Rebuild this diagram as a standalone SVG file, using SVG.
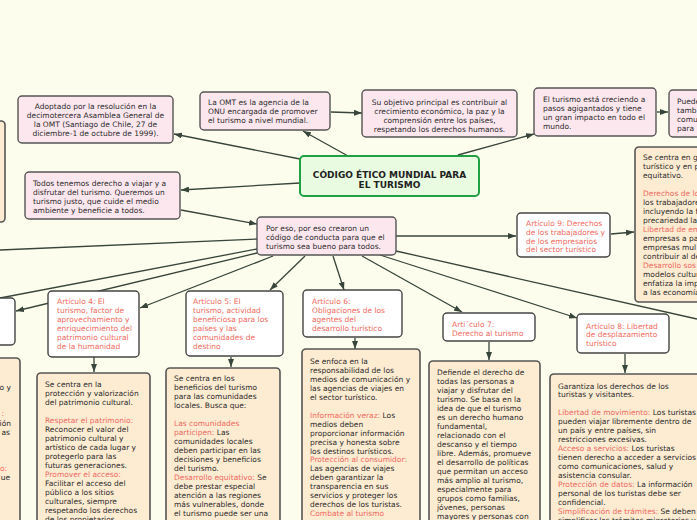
<svg xmlns="http://www.w3.org/2000/svg" width="697" height="520" viewBox="0 0 697 520">
<defs>
<marker id="ah" markerUnits="userSpaceOnUse" markerWidth="8" markerHeight="6" refX="8" refY="3" orient="auto"><path d="M0,0 L8,3 L0,6 z" fill="#37453a"/></marker>
<style>
.bg{fill:#fdfdee}
.pk{fill:#fde7ef;stroke:#555;stroke-width:1.4}
.or{fill:#fdebd2;stroke:#555;stroke-width:1.6}
.wh{fill:#fff;stroke:#444;stroke-width:1.4}
.ce{fill:#e9fbe0;stroke:#22a044;stroke-width:2}
.t{font-family:"DejaVu Sans",Verdana,sans-serif;font-size:7.5px;fill:#2b2b2b}
.c{text-anchor:middle}
.r{fill:#ef6a5e}
.b{font-family:"DejaVu Sans",Verdana,sans-serif;font-size:9px;font-weight:bold;fill:#222;text-anchor:middle}
.ln{fill:none;stroke:#37453a;stroke-width:1.3}
</style>
</defs>
<rect class="bg" x="0" y="0" width="697" height="520"/>

<g id="connectors">
<path class="ln" d="M348,156 L303,131" marker-end="url(#ah)"/>
<path class="ln" d="M331,112 L362,113" marker-end="url(#ah)"/>
<path class="ln" d="M458,155 L534,134" marker-end="url(#ah)"/>
<path class="ln" d="M657,112 L668,112" marker-end="url(#ah)"/>
<path class="ln" d="M300,159 L174,134" marker-end="url(#ah)"/>
<path class="ln" d="M300,183 L181,190" marker-end="url(#ah)"/>
<path class="ln" d="M181,210 L257,224" marker-end="url(#ah)"/>
<path class="ln" d="M257,239 L0,250"/>
<path class="ln" d="M257,249 L0,298"/>
<path class="ln" d="M257,253 L16,311" marker-end="url(#ah)"/>
<path class="ln" d="M273,256 L140,308" marker-end="url(#ah)"/>
<path class="ln" d="M305,256 L270,290" marker-end="url(#ah)"/>
<path class="ln" d="M333,256 L344,290" marker-end="url(#ah)"/>
<path class="ln" d="M362,256 L462,312" marker-end="url(#ah)"/>
<path class="ln" d="M380,255 L577,318" marker-end="url(#ah)"/>
<path class="ln" d="M396,251 L697,319"/>
<path class="ln" d="M396,236 L516,236" marker-end="url(#ah)"/>
<path class="ln" d="M611,234 L634,232" marker-end="url(#ah)"/>
<path class="ln" d="M94,357 L94,372" marker-end="url(#ah)"/>
<path class="ln" d="M231,357 L231,367" marker-end="url(#ah)"/>
<path class="ln" d="M355,338 L355,349" marker-end="url(#ah)"/>
<path class="ln" d="M489,342 L489,360" marker-end="url(#ah)"/>
<path class="ln" d="M625,354 L625,373" marker-end="url(#ah)"/>
</g>

<g id="central">
<rect class="ce" x="300" y="156" width="179" height="40" rx="4"/>
<text class="b" x="389.5" y="177.5">CÓDIGO ÉTICO MUNDIAL PARA</text>
<text class="b" x="389.5" y="187.5">EL TURISMO</text>
</g>

<g id="omt">
<rect class="pk" x="200" y="92" width="130" height="38" rx="4"/>
<text class="t" x="208" y="104.5">La OMT es la agencia de la<tspan x="208" dy="9">ONU encargada de promover</tspan><tspan x="208" dy="9">el turismo a nivel mundial.</tspan></text>
</g>

<g id="objetivo">
<rect class="pk" x="362" y="90" width="155" height="47" rx="4"/>
<text class="t c" x="439.5" y="104.5">Su objetivo principal es contribuir al<tspan x="439.5" dy="9">crecimiento económico, la paz y la</tspan><tspan x="439.5" dy="9">comprensión entre los países,</tspan><tspan x="439.5" dy="9">respetando los derechos humanos.</tspan></text>
</g>

<g id="creciendo">
<rect class="pk" x="534" y="88" width="122" height="48" rx="4"/>
<text class="t" x="543" y="102">El turismo está creciendo a<tspan x="543" dy="9">pasos agigantados y tiene</tspan><tspan x="543" dy="9">un gran impacto en todo el</tspan><tspan x="543" dy="9">mundo.</tspan></text>
</g>

<g id="pueden">
<rect class="pk" x="669" y="90" width="60" height="47" rx="4"/>
<text class="t" x="677" y="104">Puede<tspan x="677" dy="9">tamb</tspan><tspan x="677" dy="9">comu</tspan><tspan x="677" dy="9">para</tspan></text>
</g>

<g id="adoptado">
<rect class="pk" x="18" y="96" width="155" height="47" rx="4"/>
<text class="t c" x="95.5" y="109">Adoptado por la resolución en la<tspan x="95.5" dy="9">decimotercera Asamblea General de</tspan><tspan x="95.5" dy="9">la OMT (Santiago de Chile, 27 de</tspan><tspan x="95.5" dy="9">diciembre-1 de octubre de 1999).</tspan></text>
</g>

<g id="left-top">
<rect class="or" x="-30" y="121" width="35" height="101" rx="4"/>
</g>

<g id="todos">
<rect class="pk" x="25" y="172" width="155" height="47" rx="4"/>
<text class="t" x="33" y="185.5">Todos tenemos derecho a viajar y a<tspan x="33" dy="9">disfrutar del turismo. Queremos un</tspan><tspan x="33" dy="9">turismo justo, que cuide el medio</tspan><tspan x="33" dy="9">ambiente y beneficie a todos.</tspan></text>
</g>

<g id="poreso">
<rect class="pk" x="257" y="217" width="139" height="38" rx="4"/>
<text class="t" x="266" y="230.5">Por eso, por eso crearon un<tspan x="266" dy="9">código de conducta para que el</tspan><tspan x="266" dy="9">turismo sea bueno para todos.</tspan></text>
</g>

<g id="art9">
<rect class="wh" x="517" y="213" width="93" height="44" rx="4"/>
<text class="t r" x="526" y="226">Artículo 9: Derechos<tspan x="526" dy="8.8">de los trabajadores y</tspan><tspan x="526" dy="8.8">de los empresarios</tspan><tspan x="526" dy="8.8">del sector turístico</tspan></text>
</g>

<g id="art9-desc">
<rect class="or" x="635" y="147" width="90" height="155" rx="4"/>
<text class="t" x="643" y="160">Se centra en g<tspan x="643" dy="9">turístico y en p</tspan><tspan x="643" dy="9">equitativo.</tspan><tspan x="643" dy="18" class="r">Derechos de lo</tspan><tspan x="643" dy="9">los trabajadore</tspan><tspan x="643" dy="9">incluyendo la f</tspan><tspan x="643" dy="9">precariedad la</tspan><tspan x="643" dy="9" class="r">Libertad de em</tspan><tspan x="643" dy="9">empresas a pa</tspan><tspan x="643" dy="9">empresas mul</tspan><tspan x="643" dy="9">contribuir al de</tspan><tspan x="643" dy="9" class="r">Desarrollo sos</tspan><tspan x="643" dy="9">modelos cultur</tspan><tspan x="643" dy="9">enfatiza la imp</tspan><tspan x="643" dy="9">a las economía</tspan></text>
</g>

<g id="left-mid">
<rect class="wh" x="-30" y="298" width="45" height="47" rx="4"/>
</g>

<g id="left-bottom">
<rect class="or" x="-30" y="358" width="50" height="180" rx="4"/>
<text class="t" x="11" y="389.5" text-anchor="end">o y</text>
<text class="t r" x="4" y="416" text-anchor="end">:</text>
<text class="t" x="11" y="425.5" text-anchor="end">ión</text>
<text class="t" x="10" y="434.5" text-anchor="end">as</text>
<text class="t r" x="7" y="470.5" text-anchor="end">o:</text>
<text class="t" x="10" y="479.5" text-anchor="end">ue</text>
</g>

<g id="art4">
<rect class="wh" x="48" y="291" width="91" height="66" rx="4"/>
<text class="t r" x="57" y="304">Artículo 4: El<tspan x="57" dy="9">turismo, factor de</tspan><tspan x="57" dy="9">aprovechamiento y</tspan><tspan x="57" dy="9">enriquecimiento del</tspan><tspan x="57" dy="9">patrimonio cultural</tspan><tspan x="57" dy="9">de la humanidad</tspan></text>
</g>

<g id="art4-desc">
<rect class="or" x="37" y="373" width="113" height="160" rx="4"/>
<text class="t" x="45" y="386.5">Se centra en la<tspan x="45" dy="9">protección y valorización</tspan><tspan x="45" dy="9">del patrimonio cultural.</tspan><tspan x="45" dy="18" class="r">Respetar el patrimonio:</tspan><tspan x="45" dy="9">Reconocer el valor del</tspan><tspan x="45" dy="9">patrimonio cultural y</tspan><tspan x="45" dy="9">artístico de cada lugar y</tspan><tspan x="45" dy="9">protegerlo para las</tspan><tspan x="45" dy="9">futuras generaciones.</tspan><tspan x="45" dy="9" class="r">Promover el acceso:</tspan><tspan x="45" dy="9">Facilitar el acceso del</tspan><tspan x="45" dy="9">público a los sitios</tspan><tspan x="45" dy="9">culturales, siempre</tspan><tspan x="45" dy="9">respetando los derechos</tspan><tspan x="45" dy="9">de los propietarios</tspan></text>
</g>

<g id="art5">
<rect class="wh" x="186" y="291" width="97" height="65" rx="4"/>
<text class="t r" x="193" y="304">Artículo 5: El<tspan x="193" dy="9">turismo, actividad</tspan><tspan x="193" dy="9">beneficiosa para los</tspan><tspan x="193" dy="9">países y las</tspan><tspan x="193" dy="9">comunidades de</tspan><tspan x="193" dy="9">destino</tspan></text>
</g>

<g id="art5-desc">
<rect class="or" x="166" y="368" width="114" height="165" rx="4"/>
<text class="t" x="174" y="381">Se centra en los<tspan x="174" dy="9">beneficios del turismo</tspan><tspan x="174" dy="9">para las comunidades</tspan><tspan x="174" dy="9">locales. Busca que:</tspan><tspan x="174" dy="18" class="r">Las comunidades</tspan><tspan x="174" dy="9"><tspan class="r">participen:</tspan> Las</tspan><tspan x="174" dy="9">comunidades locales</tspan><tspan x="174" dy="9">deben participar en las</tspan><tspan x="174" dy="9">decisiones y beneficios</tspan><tspan x="174" dy="9">del turismo.</tspan><tspan x="174" dy="9"><tspan class="r">Desarrollo equitativo:</tspan> Se</tspan><tspan x="174" dy="9">debe prestar especial</tspan><tspan x="174" dy="9">atención a las regiones</tspan><tspan x="174" dy="9">más vulnerables, donde</tspan><tspan x="174" dy="9">el turismo puede ser una</tspan></text>
</g>

<g id="art6">
<rect class="wh" x="303" y="290" width="99" height="47" rx="4"/>
<text class="t r" x="312" y="304">Artículo 6:<tspan x="312" dy="9">Obligaciones de los</tspan><tspan x="312" dy="9">agentes del</tspan><tspan x="312" dy="9">desarrollo turístico</tspan></text>
</g>

<g id="art6-desc">
<rect class="or" x="302" y="349" width="118" height="185" rx="4"/>
<text class="t" x="310" y="364">Se enfoca en la<tspan x="310" dy="8.95">responsabilidad de los</tspan><tspan x="310" dy="8.95">medios de comunicación y</tspan><tspan x="310" dy="8.95">las agencias de viajes en</tspan><tspan x="310" dy="8.95">el sector turístico.</tspan><tspan x="310" dy="17.9"><tspan class="r">Información veraz:</tspan> Los</tspan><tspan x="310" dy="8.95">medios deben</tspan><tspan x="310" dy="8.95">proporcionar información</tspan><tspan x="310" dy="8.95">precisa y honesta sobre</tspan><tspan x="310" dy="8.95">los destinos turísticos.</tspan><tspan x="310" dy="8.95" class="r">Protección al consumidor:</tspan><tspan x="310" dy="8.95">Las agencias de viajes</tspan><tspan x="310" dy="8.95">deben garantizar la</tspan><tspan x="310" dy="8.95">transparencia en sus</tspan><tspan x="310" dy="8.95">servicios y proteger los</tspan><tspan x="310" dy="8.95">derechos de los turistas.</tspan><tspan x="310" dy="8.95" class="r">Combate al turismo</tspan></text>
</g>

<g id="art7">
<rect class="wh" x="443" y="313" width="92" height="28" rx="4"/>
<text class="t r" x="452" y="327">Arti´culo 7:<tspan x="452" dy="8.7">Derecho al turismo</tspan></text>
</g>

<g id="art7-desc">
<rect class="or" x="429" y="361" width="111" height="175" rx="4"/>
<text class="t" x="437" y="374.5">Defiende el derecho de<tspan x="437" dy="9">todas las personas a</tspan><tspan x="437" dy="9">viajar y disfrutar del</tspan><tspan x="437" dy="9">turismo. Se basa en la</tspan><tspan x="437" dy="9">idea de que el turismo</tspan><tspan x="437" dy="9">es un derecho humano</tspan><tspan x="437" dy="9">fundamental,</tspan><tspan x="437" dy="9">relacionado con el</tspan><tspan x="437" dy="9">descanso y el tiempo</tspan><tspan x="437" dy="9">libre. Además, promueve</tspan><tspan x="437" dy="9">el desarrollo de políticas</tspan><tspan x="437" dy="9">que permitan un acceso</tspan><tspan x="437" dy="9">más amplio al turismo,</tspan><tspan x="437" dy="9">especialmente para</tspan><tspan x="437" dy="9">grupos como familias,</tspan><tspan x="437" dy="9">jóvenes, personas</tspan><tspan x="437" dy="9">mayores y personas con</tspan></text>
</g>

<g id="art8">
<rect class="wh" x="577" y="314" width="92" height="39" rx="4"/>
<text class="t r" x="586" y="328.5">Artículo 8: Libertad<tspan x="586" dy="8.8">de desplazamiento</tspan><tspan x="586" dy="8.8">turístico</tspan></text>
</g>

<g id="art8-desc">
<rect class="or" x="550" y="374" width="170" height="160" rx="4"/>
<text class="t" x="558" y="388.5">Garantiza los derechos de los<tspan x="558" dy="8.95">turistas y visitantes.</tspan><tspan x="558" dy="17.9"><tspan class="r">Libertad de movimiento:</tspan> Los turistas</tspan><tspan x="558" dy="8.95">pueden viajar libremente dentro de</tspan><tspan x="558" dy="8.95">un país y entre países, sin</tspan><tspan x="558" dy="8.95">restricciones excesivas.</tspan><tspan x="558" dy="8.95"><tspan class="r">Acceso a servicios:</tspan> Los turistas</tspan><tspan x="558" dy="8.95">tienen derecho a acceder a servicios</tspan><tspan x="558" dy="8.95">como comunicaciones, salud y</tspan><tspan x="558" dy="8.95">asistencia consular.</tspan><tspan x="558" dy="8.95"><tspan class="r">Protección de datos:</tspan> La información</tspan><tspan x="558" dy="8.95">personal de los turistas debe ser</tspan><tspan x="558" dy="8.95">confidencial.</tspan><tspan x="558" dy="8.95"><tspan class="r">Simplificación de trámites:</tspan> Se deben</tspan><tspan x="558" dy="8.95">simplificar los trámites migratorios y</tspan></text>
</g>
</svg>
